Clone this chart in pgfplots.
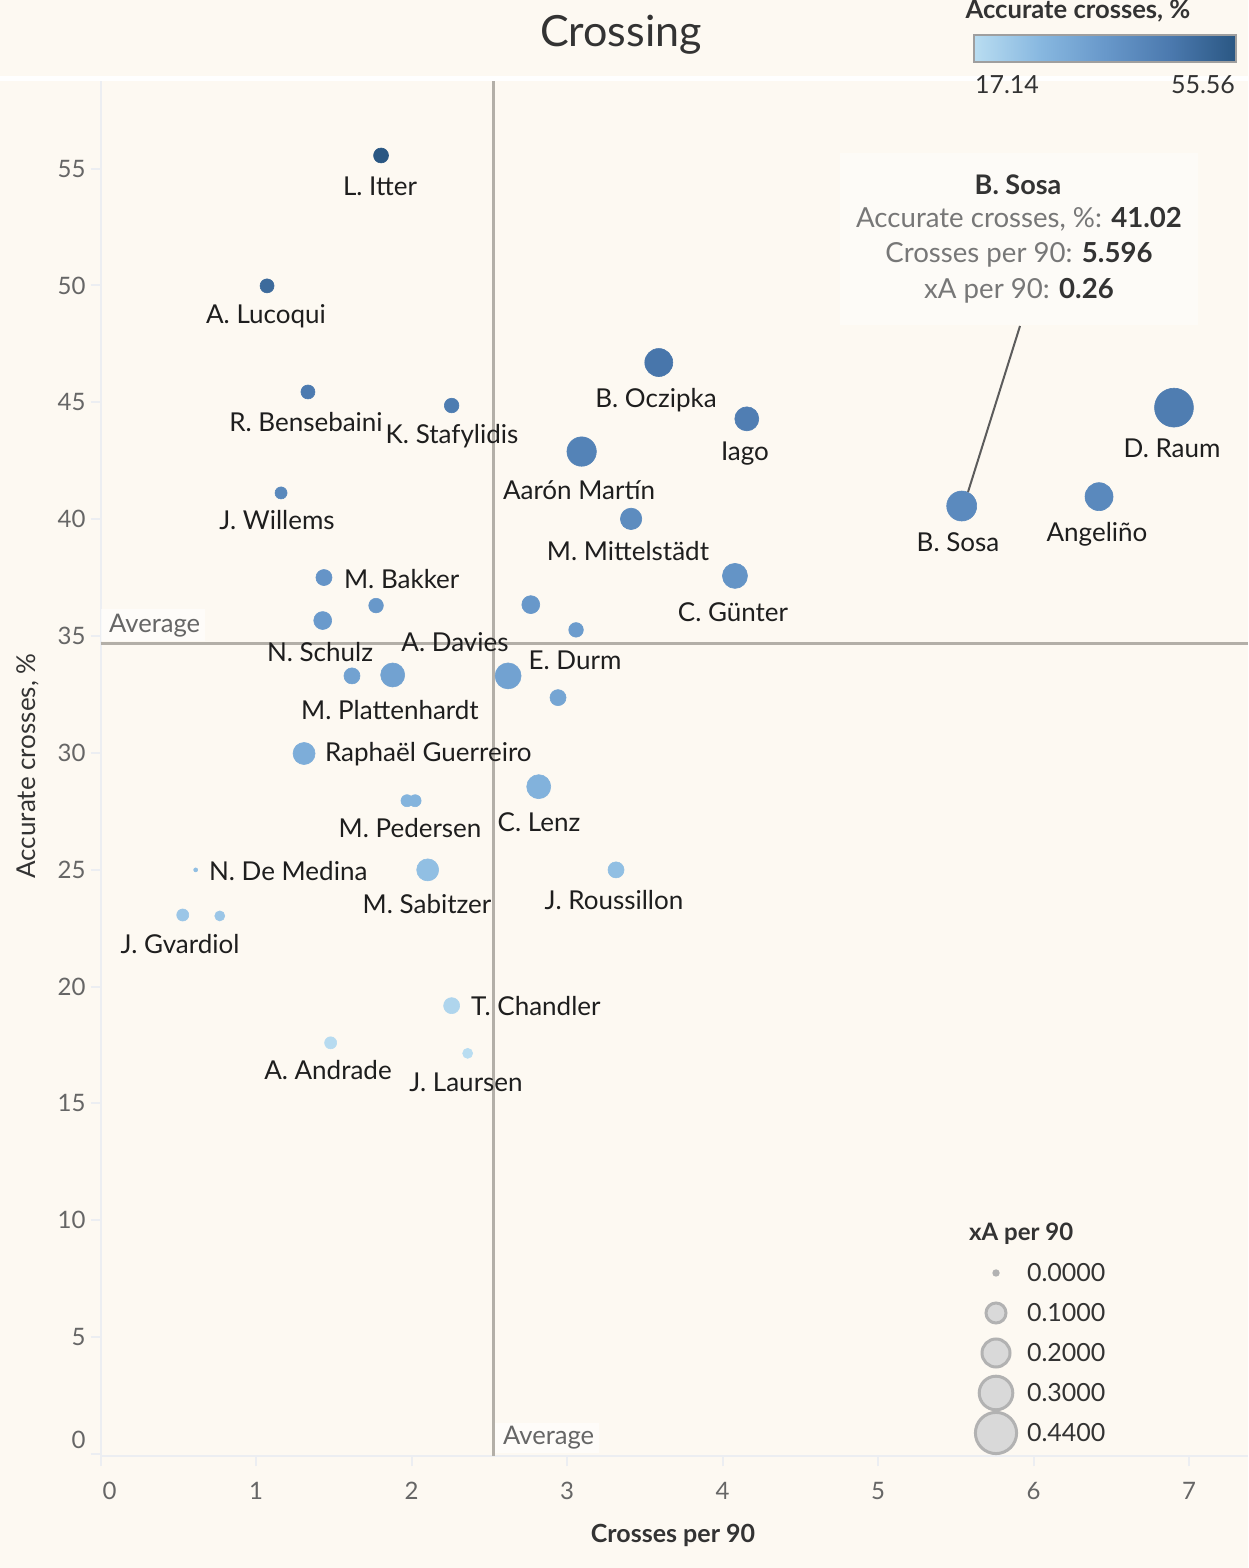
\documentclass[border=0pt]{standalone}
\usepackage{fontspec}
\setmainfont{Lato}
\usepackage{pgfplots}
\usepackage{pgfplotstable}
\pgfplotsset{compat=1.18}

\definecolor{bg}{HTML}{FDF9F2}
\definecolor{axisc}{HTML}{ECEEF2}
\definecolor{avgc}{HTML}{B3AFA8}
\definecolor{tickc}{HTML}{666666}
\definecolor{labc}{HTML}{1E1E1E}
\definecolor{titc}{HTML}{333333}
\definecolor{tipc}{HTML}{777777}
\definecolor{c0}{RGB}{185,221,241}
\definecolor{c1}{RGB}{136,184,224}
\definecolor{c2}{RGB}{104,152,202}
\definecolor{c3}{RGB}{75,121,174}
\definecolor{c4}{RGB}{42,87,131}

\pgfplotsset{colormap={tbblue}{rgb255=(185,221,241) rgb255=(136,184,224) rgb255=(104,152,202) rgb255=(75,121,174) rgb255=(42,87,131)}}
\pgfdeclarehorizontalshading{tbshade}{100bp}{color(0bp)=(c0); color(25bp)=(c0); color(37.5bp)=(c1); color(50bp)=(c2); color(62.5bp)=(c3); color(75bp)=(c4); color(100bp)=(c4)}

% crosses per 90, accurate crosses %, xA per 90
\pgfplotstableread{
x     y      xa
1.804 55.56  0.061
1.071 49.98  0.053
1.334 45.44  0.053
2.258 44.86  0.058
3.590 46.70  0.226
4.156 44.29  0.165
3.094 42.89  0.249
3.412 40.01  0.130
6.903 44.77  0.440
5.538 40.56  0.260
6.421 40.96  0.226
1.161 41.12  0.038
1.437 37.50  0.071
4.080 37.57  0.180
1.772 36.30  0.058
2.767 36.34  0.090
1.429 35.66  0.090
3.058 35.26  0.058
1.617 33.29  0.071
1.879 33.33  0.165
2.621 33.29  0.194
2.942 32.36  0.071
1.309 29.97  0.138
2.818 28.55  0.165
1.971 27.95  0.038
2.023 27.95  0.038
0.612 24.99  0.000
2.104 24.99  0.138
3.315 24.99  0.071
0.529 23.06  0.038
0.767 23.02  0.025
2.258 19.18  0.071
1.480 17.59  0.038
2.361 17.14  0.025
}\players

\begin{document}
\begin{tikzpicture}
\useasboundingbox (0,0) rectangle (624pt,784pt);
\fill[bg] (0,0) rectangle (624pt,784pt);

\begin{axis}[
  at={(50.25pt,56pt)}, anchor=south west,
  scale only axis, width=573.75pt, height=688pt,
  xmin=0, xmax=7.379, ymin=-0.09, ymax=58.79,
  axis x line=bottom, axis y line=left,
  axis line style={draw=axisc, line width=1pt, -},
  xtick={0,1,2,3,4,5,6,7},
  xticklabels={\hspace*{9pt}0,1,2,3,4,5,6,7},
  ytick={0,5,10,15,20,25,30,35,40,45,50,55},
  yticklabels={\raisebox{14pt}{0},5,10,15,20,25,30,35,40,45,50,55},
  tick style={draw=axisc, line width=1pt},
  major tick length=5pt, tick align=outside,
  ticklabel style={font=\fontsize{12}{14}\selectfont, text=tickc},
  xticklabel style={yshift=-4.5pt},
  yticklabel style={xshift=1pt},
  colormap name=tbblue,
  point meta min=17.14, point meta max=55.56,
]
\addplot[avgc, line width=1.5pt] coordinates {(2.528,-0.09) (2.528,58.79)};
\addplot[avgc, line width=1.5pt] coordinates {(0,34.66) (7.379,34.66)};
\addplot[scatter, only marks, mark=*, point meta=y,
  mark options={line width=0.3pt},
  scatter/use mapped color={draw=mapped color, fill=mapped color},
  visualization depends on={\thisrow{xa} \as \xa},
  scatter/@pre marker code/.append style={/tikz/mark size={0.5*sqrt(4+850*\xa)}}]
  table[x=x, y=y] {\players};
\end{axis}

\begin{scope}[shift={(0pt,784pt)}, x=0.5pt, y=-0.5pt]
  % top band and title
  \fill[white] (0,76) rectangle (1248,81);
  \node[text=titc, font=\fontsize{21.5}{25}\selectfont] at (621,35) {Crossing};
  % average labels
  \fill[white, opacity=0.6] (101,609) rectangle (205,641);
  \node[anchor=west, text=tickc, font=\fontsize{12.8}{15}\selectfont] at (102,626) {Average};
  \fill[white, opacity=0.6] (495,1423) rectangle (599,1453);
  \node[anchor=west, text=tickc, font=\fontsize{12.8}{15}\selectfont] at (496,1438) {Average};
  % axis titles
  \node[text=titc, font=\bfseries\fontsize{12.5}{15}\selectfont] at (673,1535) {Crosses per 90};
  \node[text=titc, rotate=90, font=\fontsize{13}{15}\selectfont] at (28,766) {Accurate crosses, \%};
  % player labels
  \begin{scope}[every node/.style={text=labc, font=\fontsize{13}{15}\selectfont}]
    \node at (380,186) {L. Itter};
    \node at (266,316) {A. Lucoqui};
    \node at (306,422) {R. Bensebaini};
    \node at (452,436) {K. Stafylidis};
    \node at (656,400) {B. Oczipka};
    \node at (745,454) {Iago};
    \node at (1172,448) {D. Raum};
    \node at (579,490) {Aarón Martín};
    \node at (277,520) {J. Willems};
    \node at (628,551) {M. Mittelstädt};
    \node at (958,542) {B. Sosa};
    \node at (1097,534) {Angeliño};
    \node[anchor=west] at (337,579) {M. Bakker};
    \node at (733,612) {C. Günter};
    \node at (455,642) {A. Davies};
    \node at (320,652) {N. Schulz};
    \node at (575,660) {E. Durm};
    \node at (390,710) {M. Plattenhardt};
    \node[anchor=west] at (318,754) {Raphaël Guerreiro};
    \node at (539,822) {C. Lenz};
    \node at (410,828) {M. Pedersen};
    \node[anchor=west] at (202,871) {N. De Medina};
    \node at (427,904) {M. Sabitzer};
    \node at (614,900) {J. Roussillon};
    \node at (180,944) {J. Gvardiol};
    \node[anchor=west] at (464,1006) {T. Chandler};
    \node at (328,1070) {A. Andrade};
    \node at (466,1082) {J. Laursen};
  \end{scope}
  % tooltip
  \fill[white, opacity=0.45] (840,153) rectangle (1198,325);
  \draw[titc!80, line width=1pt] (1020,326) -- (968,492);
  \node[text=titc, font=\bfseries\fontsize{13.5}{16}\selectfont] at (1018,185) {B. Sosa};
  \node[font=\fontsize{13.8}{16}\selectfont] at (1019,219) {\textcolor{tipc}{Accurate crosses, \%:} \textcolor{titc}{\bfseries 41.02}};
  \node[font=\fontsize{13.8}{16}\selectfont] at (1019,255) {\textcolor{tipc}{Crosses per 90:} \textcolor{titc}{\bfseries 5.596}};
  \node[font=\fontsize{13.8}{16}\selectfont] at (1019,291) {\textcolor{tipc}{xA per 90:} \textcolor{titc}{\bfseries 0.26}};
  % colour legend
  \node[text=titc, font=\bfseries\fontsize{12.8}{15}\selectfont] at (1078,11) {Accurate crosses, \%};
  \shade[shading=tbshade] (974,35) rectangle (1236,62);
  \draw[gray!75, line width=1pt] (974,35) rectangle (1236,62);
  \node[anchor=west, text=titc, font=\fontsize{12.5}{14}\selectfont] at (968,85) {17.14};
  \node[anchor=east, text=titc, font=\fontsize{12.5}{14}\selectfont] at (1242,85) {55.56};
  % size legend
  \node[anchor=west, text=titc, font=\bfseries\fontsize{12}{14}\selectfont] at (962,1234) {xA per 90};
  \fill[gray!60] (996,1273) circle (3.7);
  \draw[fill=black!15, draw=black!30, line width=1.5pt] (996,1313) circle (10);
  \draw[fill=black!15, draw=black!30, line width=1.5pt] (996,1353) circle (14);
  \draw[fill=black!15, draw=black!30, line width=1.5pt] (996,1393) circle (16.8);
  \draw[fill=black!15, draw=black!30, line width=1.5pt] (996,1433) circle (20.6);
  \begin{scope}[every node/.style={anchor=west, text=titc, font=\fontsize{12.5}{14}\selectfont}]
    \node at (1020,1273) {0.0000};
    \node at (1020,1313) {0.1000};
    \node at (1020,1353) {0.2000};
    \node at (1020,1393) {0.3000};
    \node at (1020,1433) {0.4400};
  \end{scope}
\end{scope}
\end{tikzpicture}
\end{document}
